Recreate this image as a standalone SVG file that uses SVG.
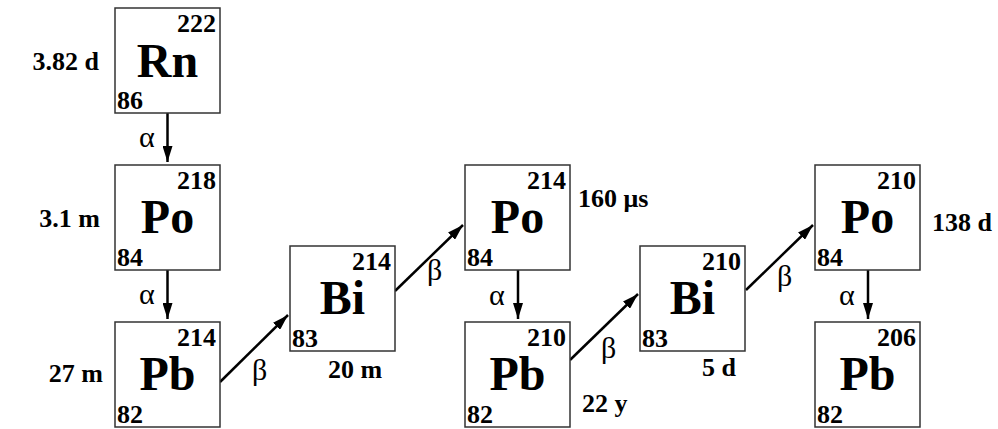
<svg xmlns="http://www.w3.org/2000/svg" width="998" height="429" viewBox="0 0 998 429">
<defs>
<style>
.box{fill:#fff;stroke:#333;stroke-width:1.5}
.sym{font-family:"Liberation Serif","Times New Roman",serif;font-weight:bold;font-size:48px;text-anchor:middle;fill:#000}
.num{font-family:"Liberation Serif","Times New Roman",serif;font-weight:bold;font-size:26px;fill:#000}
.mass{text-anchor:end}
.hl{font-family:"Liberation Serif","Times New Roman",serif;font-weight:bold;font-size:26px;fill:#000}
.gr{font-family:"Liberation Serif","Times New Roman",serif;font-size:30px;fill:#000}
.arr{stroke:#000;stroke-width:2.5;fill:none;marker-end:url(#ah)}
</style>
<marker id="ah" markerUnits="userSpaceOnUse" markerWidth="16" markerHeight="10" refX="16" refY="5" orient="auto" viewBox="0 0 16 10">
<path d="M0,0 L16,5 L0,10 z" fill="#000"/>
</marker>
</defs>
<g id="connectors">
<line class="arr" x1="167.5" y1="113" x2="167.5" y2="162"/>
<line class="arr" x1="167.5" y1="270" x2="167.5" y2="319"/>
<line class="arr" x1="518" y1="270" x2="518" y2="319"/>
<line class="arr" x1="868" y1="270" x2="868" y2="319"/>
<line class="arr" x1="220" y1="382" x2="288" y2="315"/>
<line class="arr" x1="395" y1="291" x2="463" y2="225"/>
<line class="arr" x1="570" y1="360" x2="638" y2="294"/>
<line class="arr" x1="746" y1="290" x2="813" y2="225"/>
<text class="gr" x="139" y="147">α</text>
<text class="gr" x="139" y="304">α</text>
<text class="gr" x="489" y="305">α</text>
<text class="gr" x="839" y="305">α</text>
<text class="gr" x="252" y="380">β</text>
<text class="gr" x="427" y="280">β</text>
<text class="gr" x="601" y="358">β</text>
<text class="gr" x="777" y="286">β</text>
</g>
<g id="Rn222">
<rect class="box" x="115" y="8" width="105" height="105"/>
<text class="sym" x="167.5" y="77">Rn</text>
<text class="num mass" x="216" y="32">222</text>
<text class="num" x="117" y="109">86</text>
<text class="hl" x="99" y="70" text-anchor="end">3.82 d</text>
</g>
<g id="Po218">
<rect class="box" x="115" y="165" width="105" height="105"/>
<text class="sym" x="167.5" y="233">Po</text>
<text class="num mass" x="216" y="189">218</text>
<text class="num" x="117" y="266">84</text>
<text class="hl" x="100" y="227" text-anchor="end">3.1 m</text>
</g>
<g id="Pb214">
<rect class="box" x="115" y="322" width="105" height="105"/>
<text class="sym" x="167.5" y="390">Pb</text>
<text class="num mass" x="216" y="346">214</text>
<text class="num" x="117" y="423">82</text>
<text class="hl" x="103" y="382" text-anchor="end">27 m</text>
</g>
<g id="Bi214">
<rect class="box" x="290" y="246" width="105" height="105"/>
<text class="sym" x="342.5" y="314">Bi</text>
<text class="num mass" x="391" y="270">214</text>
<text class="num" x="292" y="347">83</text>
<text class="hl" x="328" y="378">20 m</text>
</g>
<g id="Po214">
<rect class="box" x="465" y="165" width="105" height="105"/>
<text class="sym" x="517.5" y="233">Po</text>
<text class="num mass" x="566" y="189">214</text>
<text class="num" x="467" y="266">84</text>
<text class="hl" x="578" y="207">160 μs</text>
</g>
<g id="Pb210">
<rect class="box" x="465" y="322" width="105" height="105"/>
<text class="sym" x="517.5" y="390">Pb</text>
<text class="num mass" x="566" y="346">210</text>
<text class="num" x="467" y="423">82</text>
<text class="hl" x="582" y="412">22 y</text>
</g>
<g id="Bi210">
<rect class="box" x="640" y="246" width="105" height="105"/>
<text class="sym" x="692.5" y="314">Bi</text>
<text class="num mass" x="741" y="270">210</text>
<text class="num" x="642" y="347">83</text>
<text class="hl" x="702" y="376">5 d</text>
</g>
<g id="Po210">
<rect class="box" x="815" y="165" width="105" height="105"/>
<text class="sym" x="867.5" y="233">Po</text>
<text class="num mass" x="916" y="189">210</text>
<text class="num" x="817" y="266">84</text>
<text class="hl" x="932" y="231">138 d</text>
</g>
<g id="Pb206">
<rect class="box" x="815" y="322" width="105" height="105"/>
<text class="sym" x="867.5" y="390">Pb</text>
<text class="num mass" x="916" y="346">206</text>
<text class="num" x="817" y="423">82</text>
</g>
</svg>
